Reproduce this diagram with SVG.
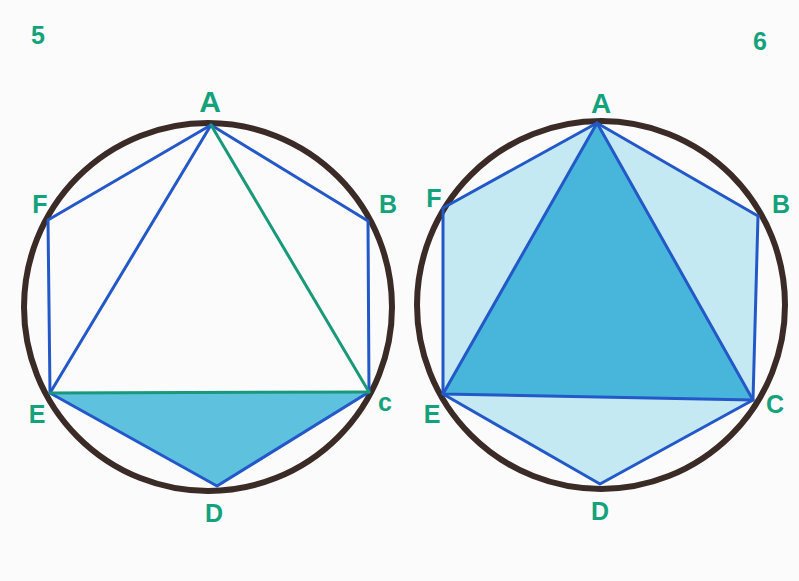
<svg xmlns="http://www.w3.org/2000/svg" width="799" height="581" viewBox="0 0 799 581">
<style>
.lbl{font-family:"Liberation Sans",Arial,sans-serif;font-size:25px;font-weight:bold;fill:#14a27c;text-anchor:middle}
.circ{fill:none;stroke:#3a2b26;stroke-width:6}
.blue{stroke:#2358c8;stroke-width:3;fill:none;stroke-linecap:round;stroke-linejoin:round}
.green{stroke:#17997a;stroke-width:3;fill:none;stroke-linecap:round}
</style>
<rect width="799" height="581" fill="#fbfbfb"/>
<g id="figure5">
  <polygon points="50,393 369,392 217,486" fill="#5ec2df"/>
  <circle class="circ" cx="208" cy="307" r="184"/>
  <g id="connectors5">
    <polyline class="blue" points="211,125 368,221 369,392 217,486 50,393 48,220 211,125"/>
    <line class="blue" x1="211" y1="125" x2="50" y2="393"/>
    <line class="green" x1="211" y1="125" x2="369" y2="392"/>
    <line class="green" x1="50" y1="393" x2="369" y2="392"/>
  </g>
  <text class="lbl" x="38" y="44">5</text>
  <g id="A5"><text class="lbl" x="210" y="112" style="font-size:30px">A</text></g>
  <g id="B5"><text class="lbl" x="388" y="213">B</text></g>
  <g id="C5"><text class="lbl" x="385" y="411">c</text></g>
  <g id="D5"><text class="lbl" x="214" y="522">D</text></g>
  <g id="E5"><text class="lbl" x="37" y="423">E</text></g>
  <g id="F5"><text class="lbl" x="40" y="213">F</text></g>
</g>
<g id="figure6">
  <polygon points="597,123 758,216 753,400 600,484 443,394 443,208" fill="#c4e9f3"/>
  <polygon points="597,123 753,400 443,394" fill="#48b6da"/>
  <circle class="circ" cx="601" cy="305" r="184"/>
  <g id="connectors6">
    <polyline class="blue" points="597,123 758,216 753,400 600,484 443,394 443,208 597,123"/>
    <polyline class="blue" points="597,123 753,400 443,394 597,123"/>
  </g>
  <text class="lbl" x="760" y="50">6</text>
  <g id="A6"><text class="lbl" x="601" y="113" style="font-size:28px">A</text></g>
  <g id="B6"><text class="lbl" x="781" y="213">B</text></g>
  <g id="C6"><text class="lbl" x="775" y="413">C</text></g>
  <g id="D6"><text class="lbl" x="600" y="520">D</text></g>
  <g id="E6"><text class="lbl" x="432" y="423">E</text></g>
  <g id="F6"><text class="lbl" x="434" y="207">F</text></g>
</g>
</svg>
